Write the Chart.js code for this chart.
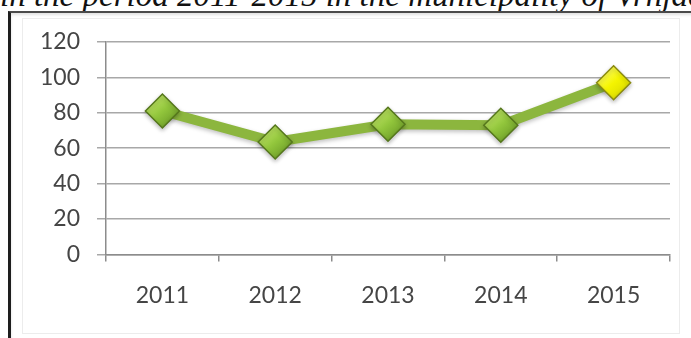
<!DOCTYPE html>
<html>
<head>
<meta charset="utf-8">
<script src="https://cdn.jsdelivr.net/npm/chart.js@4.4.1/dist/chart.umd.min.js"></script>
<style>
  html, body { margin: 0; padding: 0; background: #fff; }
  #wrap { position: relative; width: 691px; height: 338px; overflow: hidden; background: #fff; }
  #caption {
    position: absolute; left: 0; top: -21px; white-space: nowrap;
    font: italic 33px/33px "Liberation Serif", "Times New Roman", serif; color: #111;
  }
  #frame {
    position: absolute; left: 8px; top: 11px; width: 700px; height: 340px;
    border-left: 3px solid #1e1e1e; border-top: 2px solid #4a4a4a;
    box-shadow: inset 0 2px 3px rgba(0,0,0,0.12);
  }
  #inner {
    position: absolute; left: 22px; top: 18px; width: 656px; height: 314px;
    border: 1px solid #ececec;
  }
  #box { position: absolute; left: 0; top: 0; width: 691px; height: 338px; }
</style>
</head>
<body>
<div id="wrap">
  <div id="caption">in the period 2011-2015 in the municipality of Vrnjačka Banja</div>
  <div id="frame"></div>
  <div id="inner"></div>
  <div id="box"><canvas id="chartLinea"></canvas></div>
</div>
<script>
const anios = ["2011", "2012", "2013", "2014", "2015"];
const valores = [81, 63.5, 73.5, 73, 97];
const ticksY = [0, 20, 40, 60, 80, 100, 120];

const canvasLinea = document.getElementById("chartLinea");
const contextLinea = canvasLinea.getContext("2d");

// gradient fill for each diamond, the last one is yellow
const rellenoPunto = (ctx) => {
  const el = ctx.element;
  if (!el || el.y === undefined) return "#8cbf3a";
  const g = contextLinea.createLinearGradient(el.x - 12, el.y - 14, el.x + 12, el.y + 14);
  if (ctx.dataIndex === valores.length - 1) {
    g.addColorStop(0, "#ffff70");
    g.addColorStop(0.5, "#f4f400");
    g.addColorStop(1, "#d8d800");
  } else {
    g.addColorStop(0, "#c4e86a");
    g.addColorStop(0.5, "#92c63c");
    g.addColorStop(1, "#6a9a26");
  }
  return g;
};

// soft shadow under the line and the markers
const sombra = {
  id: "sombra",
  beforeDatasetsDraw: (chart) => {
    const c = chart.ctx;
    c.save();
    c.shadowColor = "rgba(0,0,0,0.25)";
    c.shadowBlur = 4;
    c.shadowOffsetY = 2;
  },
  afterDatasetsDraw: (chart) => {
    chart.ctx.restore();
  },
};

const chartLinea = new Chart(contextLinea, {
  type: "line",
  data: {
    labels: anios,
    datasets: [
      {
        label: "Valor",
        data: valores,
        borderColor: "#8cb63e",
        borderWidth: 10,
        tension: 0,
        pointStyle: "rectRot",
        pointRadius: 17,
        pointHoverRadius: 17,
        pointBorderWidth: 1.5,
        pointBorderColor: (ctx) => ctx.dataIndex === valores.length - 1 ? "#8a8a10" : "#55771c",
        pointBackgroundColor: rellenoPunto,
      },
    ],
  },
  options: {
    responsive: true,
    maintainAspectRatio: false,
    animation: false,
    events: [],
    layout: { padding: { left: 10, right: 21, top: 42, bottom: 9 } },
    plugins: { legend: { display: false }, tooltip: { enabled: false } },
    scales: {
      x: {
        offset: true,
        grid: { offset: true, drawOnChartArea: false, drawTicks: true, tickLength: 7, color: "#8c8c8c", lineWidth: 1.5 },
        border: { color: "#8c8c8c", width: 1.5 },
        ticks: { color: "#454545", padding: 20, font: { family: "Lato", size: 23 } },
      },
      y: {
        min: 0,
        max: 120,
        afterFit: (s) => { s.width = 96; },
        afterBuildTicks: (s) => { s.ticks = ticksY.map((v) => ({ value: v })); },
        grid: { tickLength: 9, color: "#a8a8a8", lineWidth: 1.5 },
        border: { color: "#8c8c8c", width: 1.5 },
        ticks: { color: "#454545", padding: 17, font: { family: "Lato", size: 23 } },
      },
    },
  },
  plugins: [sombra],
});
</script>
</body>
</html>
